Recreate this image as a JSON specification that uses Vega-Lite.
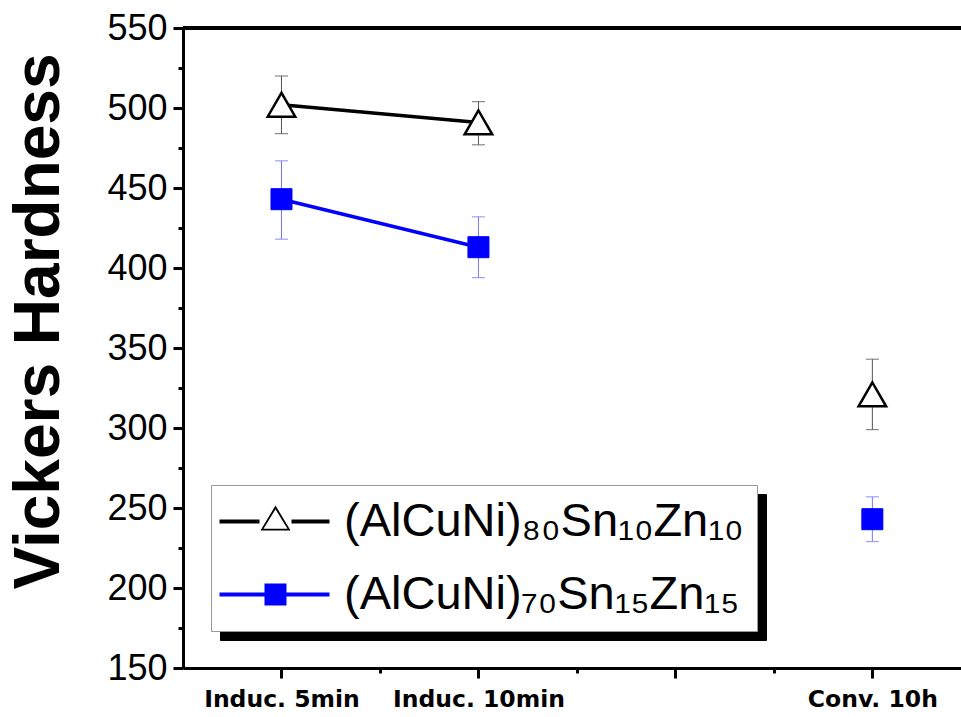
{
  "$schema": "https://vega.github.io/schema/vega-lite/v6.json",
  "width": 778,
  "height": 640,
  "autosize": {"type": "none"},
  "padding": {"left": 183, "top": 28, "right": 0, "bottom": 49},
  "background": "white",
  "config": {
    "view": {"stroke": null},
    "font": "Liberation Sans",
    "axis": {"grid": false, "domainColor": "black", "domainWidth": 3, "tickColor": "black", "tickWidth": 3, "labelColor": "black", "titleColor": "black", "labelFont": "Liberation Sans", "titleFont": "Liberation Sans"},
    "legend": {"labelFont": "Liberation Sans", "title": null, "orient": "none", "padding": 13, "rowPadding": 25, "symbolSize": 400, "labelFontSize": 47, "labelLimit": 600, "labelColor": "black", "labelOffset": 73}
  },
  "datasets": {
    "pts": [
      {"cond": 1, "series": "(AlCuNi)₈₀Sn₁₀Zn₁₀", "sh": "(AlCuNi)₈₀Sn₁₀Zn₁₀ ", "v": 502, "lo": 484, "hi": 520},
      {"cond": 2, "series": "(AlCuNi)₈₀Sn₁₀Zn₁₀", "sh": "(AlCuNi)₈₀Sn₁₀Zn₁₀ ", "v": 491, "lo": 477, "hi": 504},
      {"cond": 4, "series": "(AlCuNi)₈₀Sn₁₀Zn₁₀", "sh": "(AlCuNi)₈₀Sn₁₀Zn₁₀ ", "v": 321, "lo": 299, "hi": 343},
      {"cond": 1, "series": "(AlCuNi)₇₀Sn₁₅Zn₁₅", "sh": "(AlCuNi)₇₀Sn₁₅Zn₁₅ ", "v": 443, "lo": 418, "hi": 467},
      {"cond": 2, "series": "(AlCuNi)₇₀Sn₁₅Zn₁₅", "sh": "(AlCuNi)₇₀Sn₁₅Zn₁₅ ", "v": 413, "lo": 394, "hi": 432},
      {"cond": 4, "series": "(AlCuNi)₇₀Sn₁₅Zn₁₅", "sh": "(AlCuNi)₇₀Sn₁₅Zn₁₅ ", "v": 243, "lo": 229, "hi": 257}
    ]
  },
  "data": {"name": "pts"},
  "encoding": {
    "x": {
      "field": "cond", "type": "quantitative",
      "scale": {"domain": [0.5, 4.45], "nice": false, "zero": false},
      "axis": {
        "title": null,
        "values": [1, 1.5, 2, 2.5, 3, 3.5, 4],
        "tickSize": {"condition": {"test": "datum.value % 1 === 0", "value": 10}, "value": 5},
        "labelExpr": "datum.value === 1 ? 'Induc. 5min' : datum.value === 2 ? 'Induc. 10min' : datum.value === 4 ? 'Conv. 10h' : ''",
        "labelFont": "DejaVu Sans", "labelFontSize": 23.5, "labelFontWeight": "bold", "labelPadding": 9, "labelFlush": false, "labelOverlap": false
      }
    },
    "y": {
      "field": "v", "type": "quantitative",
      "scale": {"domain": [150, 550], "nice": false, "zero": false},
      "axis": {
        "title": "Vickers Hardness",
        "values": [150, 175, 200, 225, 250, 275, 300, 325, 350, 375, 400, 425, 450, 475, 500, 525, 550],
        "tickSize": {"condition": {"test": "datum.value % 50 === 0", "value": 10}, "value": 5},
        "labelExpr": "datum.value % 50 === 0 ? datum.label : ''",
        "labelFontSize": 36, "labelPadding": 6, "labelOverlap": false, "labelFlush": false,
        "titleFontSize": 64, "titleFontWeight": "bold", "titleAngle": -90, "titleBaseline": "alphabetic", "titleAlign": "center",
        "titleX": -125, "titleY": 293
      }
    }
  },
  "layer": [
    {
      "mark": {"type": "rule", "color": "black", "strokeWidth": 4},
      "encoding": {"y": {"datum": 550}, "x": null}
    },
    {
      "transform": [{"filter": "datum.v > 480 || (datum.cond === 4 && datum.v > 300)"}],
      "mark": {"type": "errorbar", "color": "#555555", "thickness": 1, "ticks": {"size": 13, "thickness": 1.2}},
      "encoding": {"y": {"field": "lo", "type": "quantitative"}, "y2": {"field": "hi"}}
    },
    {
      "transform": [{"filter": "!(datum.v > 480 || (datum.cond === 4 && datum.v > 300))"}],
      "mark": {"type": "errorbar", "color": "#7878ff", "thickness": 1, "ticks": {"size": 13, "thickness": 1.2}},
      "encoding": {"y": {"field": "lo", "type": "quantitative"}, "y2": {"field": "hi"}}
    },
    {
      "transform": [{"filter": "datum.cond <= 2"}],
      "mark": {"type": "line", "strokeWidth": 3.5},
      "encoding": {
        "detail": {"field": "series"},
        "color": {"field": "series", "type": "nominal", "legend": null,
          "scale": {"domain": ["(AlCuNi)₈₀Sn₁₀Zn₁₀", "(AlCuNi)₇₀Sn₁₅Zn₁₅"], "range": ["black", "#0000ff"]}}
      }
    },
    {
      "transform": [{"filter": "datum.series === '(AlCuNi)₈₀Sn₁₀Zn₁₀'"}],
      "mark": {"type": "point", "shape": "triangle-up", "filled": true, "fill": "white", "stroke": "black", "strokeWidth": 2.5, "size": 760, "opacity": 1}
    },
    {
      "transform": [{"filter": "datum.series === '(AlCuNi)₇₀Sn₁₅Zn₁₅'"}],
      "mark": {"type": "point", "shape": "square", "filled": true, "fill": "#0000ff", "stroke": "#0000ff", "strokeWidth": 1, "size": 441, "opacity": 1}
    },
    {
      "mark": {"type": "point", "opacity": 0, "filled": true, "fill": "black", "stroke": "black"},
      "encoding": {
        "shape": {"field": "sh", "type": "nominal",
          "scale": {"range": ["M0,0", "M0,0"]},
          "legend": {"legendX": 37, "legendY": 466, "zindex": 1, "fillColor": "black", "strokeColor": "black", "symbolOpacity": 0,
            "labelExpr": "' '", "labelOffset": 473}}
      }
    },
    {
      "mark": {"type": "point", "opacity": 0, "filled": true, "fill": "white", "stroke": "white"},
      "encoding": {
        "shape": {"field": "series", "type": "nominal",
          "scale": {"domain": ["(AlCuNi)₈₀Sn₁₀Zn₁₀", "(AlCuNi)₇₀Sn₁₅Zn₁₅"], "range": ["M0,0", "M0,0"]},
          "legend": {"legendX": 28, "legendY": 457, "zindex": 2, "fillColor": "white", "strokeColor": "#999999", "symbolOpacity": 0}}
      }
    },
    {
      "mark": {"type": "point", "opacity": 0, "filled": true, "fill": "black", "strokeWidth": 0},
      "encoding": {
        "shape": {"field": "series", "type": "nominal",
          "scale": {"domain": ["(AlCuNi)₈₀Sn₁₀Zn₁₀", "(AlCuNi)₇₀Sn₁₅Zn₁₅"],
            "range": ["M-2.4,-0.19H1.6V0.19H-2.4ZM4.8,-0.19H8.6V0.19H4.8ZM3.2,-1.6L4.7,0.9L1.7,0.9ZM3.2,-1.22L2.0,0.72L4.4,0.72Z", "M0,0"]},
          "legend": {"legendX": 24, "legendY": 457, "zindex": 3, "labelExpr": "' '",
            "symbolFillColor": "black", "symbolStrokeWidth": 0, "symbolOpacity": 1}}
      }
    },
    {
      "mark": {"type": "point", "opacity": 0, "filled": true, "fill": "#0000ff", "strokeWidth": 0},
      "encoding": {
        "shape": {"field": "series", "type": "nominal",
          "scale": {"domain": ["(AlCuNi)₈₀Sn₁₀Zn₁₀", "(AlCuNi)₇₀Sn₁₅Zn₁₅"],
            "range": ["M0,0", "M-2.4,-0.19H2.1V0.19H-2.4ZM4.3,-0.19H8.6V0.19H4.3ZM2.1,-1.1H4.3V1.1H2.1Z"]},
          "legend": {"legendX": 24, "legendY": 457, "zindex": 3, "labelExpr": "' '",
            "symbolFillColor": "#0000ff", "symbolStrokeWidth": 0, "symbolOpacity": 1}}
      }
    }
  ],
  "resolve": {"scale": {"shape": "independent"}}
}
